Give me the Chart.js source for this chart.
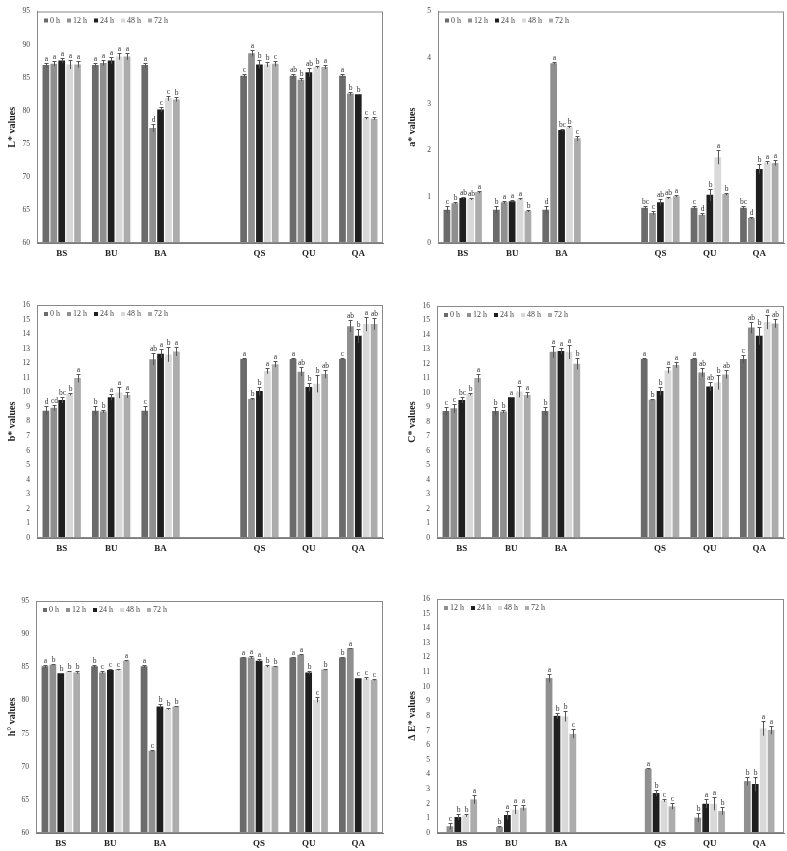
<!DOCTYPE html>
<html>
<head>
<title>Colour parameters</title>
<script src="https://cdn.jsdelivr.net/npm/chart.js"></script>
<style>
  body { margin: 0; background: #fff; }
  canvas { position: absolute; }
</style>
</head>
<body>
<canvas id="cL" width="390" height="280" style="left:0;top:0"></canvas>
<canvas id="cA" width="392" height="280" style="left:395px;top:0"></canvas>
<canvas id="cB" width="390" height="280" style="left:0;top:285px"></canvas>
<canvas id="cC" width="392" height="280" style="left:395px;top:285px"></canvas>
<canvas id="cH" width="390" height="281" style="left:0;top:570px"></canvas>
<canvas id="cE" width="392" height="281" style="left:395px;top:570px"></canvas>
<script>
const groups = ["BS", "BU", "BA", "QS", "QU", "QA"];
const hours = ["0 h", "12 h", "24 h", "48 h", "72 h"];
const deltaHours = ["12 h", "24 h", "48 h", "72 h"];

// rows = groups, columns = hours
const lMean = [
  [86.9, 87.1, 87.6, 87.0, 87.0],
  [86.9, 87.2, 87.6, 88.2, 88.2],
  [86.9, 77.4, 80.2, 81.9, 81.7],
  [85.3, 88.7, 87.0, 87.0, 87.1],
  [85.3, 84.7, 85.8, 86.6, 86.6],
  [85.3, 82.6, 82.5, 78.9, 78.8]
];
const lErr = [
  [0.3, 0.4, 0.4, 0.7, 0.5],
  [0.3, 0.4, 0.5, 0.5, 0.5],
  [0.3, 0.6, 0.4, 0.4, 0.3],
  [0.3, 0.5, 0.6, 0.4, 0.4],
  [0.3, 0.2, 0.7, 0.2, 0.3],
  [0.3, 0.3, 0.1, 0.2, 0.2]
];
const lLetters = [
  ["a", "a", "a", "a", "a"],
  ["a", "a", "a", "a", "a"],
  ["a", "d", "c", "c", "b"],
  ["c", "a", "b", "b", "c"],
  ["ab", "b", "ab", "b", "a"],
  ["a", "b", "b", "c", "c"]
];

const aMean = [
  [0.72, 0.86, 0.97, 0.95, 1.10],
  [0.72, 0.88, 0.90, 0.95, 0.69],
  [0.72, 3.88, 2.44, 2.50, 2.26],
  [0.76, 0.65, 0.88, 0.97, 1.01],
  [0.76, 0.61, 1.04, 1.85, 1.06],
  [0.76, 0.54, 1.60, 1.74, 1.73]
];
const aErr = [
  [0.08, 0.02, 0.02, 0.02, 0.03],
  [0.08, 0.03, 0.02, 0.02, 0.02],
  [0.08, 0.02, 0.03, 0.02, 0.06],
  [0.04, 0.04, 0.07, 0.02, 0.02],
  [0.04, 0.03, 0.13, 0.15, 0.03],
  [0.04, 0.02, 0.10, 0.04, 0.06]
];
const aLetters = [
  ["c", "b", "ab", "ab", "a"],
  ["b", "a", "a", "a", "b"],
  ["d", "a", "bc", "b", "c"],
  ["bc", "c", "ab", "ab", "a"],
  ["c", "d", "b", "a", "b"],
  ["bc", "d", "b", "a", "a"]
];

const bMean = [
  [8.74, 8.94, 9.47, 9.89, 10.99],
  [8.74, 8.69, 9.66, 10.0, 9.82],
  [8.74, 12.27, 12.66, 12.6, 12.8],
  [12.29, 9.54, 10.09, 11.47, 11.93],
  [12.29, 11.42, 10.37, 10.6, 11.26],
  [12.29, 14.54, 13.88, 14.7, 14.7]
];
const bErr = [
  [0.3, 0.2, 0.2, 0.1, 0.3],
  [0.3, 0.1, 0.2, 0.4, 0.2],
  [0.3, 0.4, 0.3, 0.5, 0.3],
  [0.05, 0.05, 0.3, 0.2, 0.2],
  [0.05, 0.3, 0.3, 0.6, 0.3],
  [0.05, 0.4, 0.5, 0.5, 0.4]
];
const bLetters = [
  ["d", "cd", "bc", "b", "a"],
  ["b", "b", "a", "a", "a"],
  ["c", "ab", "a", "b", "a"],
  ["a", "b", "b", "a", "a"],
  ["a", "ab", "b", "b", "ab"],
  ["c", "ab", "b", "a", "ab"]
];

const cMean = [
  [8.76, 8.94, 9.52, 9.93, 11.03],
  [8.76, 8.72, 9.70, 10.1, 9.86],
  [8.76, 12.84, 12.89, 12.84, 12.02],
  [12.34, 9.54, 10.14, 11.56, 11.93],
  [12.34, 11.42, 10.44, 10.73, 11.28],
  [12.34, 14.52, 13.94, 14.9, 14.8]
];
const cErr = [
  [0.3, 0.3, 0.2, 0.1, 0.3],
  [0.3, 0.1, 0.05, 0.4, 0.2],
  [0.3, 0.4, 0.2, 0.5, 0.4],
  [0.05, 0.05, 0.3, 0.2, 0.2],
  [0.05, 0.3, 0.3, 0.5, 0.3],
  [0.3, 0.4, 0.6, 0.5, 0.3]
];
const cLetters = [
  ["c", "c", "bc", "b", "a"],
  ["b", "b", "a", "a", "a"],
  ["b", "a", "a", "a", "b"],
  ["a", "b", "b", "a", "a"],
  ["a", "ab", "ab", "b", "ab"],
  ["c", "ab", "b", "a", "ab"]
];

const hMean = [
  [85.16, 85.4, 84.1, 84.4, 84.2],
  [85.16, 84.2, 84.6, 84.65, 86.0],
  [85.16, 72.4, 79.1, 78.7, 79.1],
  [86.46, 86.46, 86.0, 85.2, 85.1],
  [86.46, 86.9, 84.2, 80.1, 84.65],
  [86.46, 87.87, 83.35, 83.3, 83.1]
];
const hErr = [
  [0.2, 0.1, 0.05, 0.1, 0.2],
  [0.2, 0.2, 0.1, 0.1, 0.1],
  [0.2, 0.1, 0.3, 0.1, 0.1],
  [0.1, 0.2, 0.2, 0.2, 0.1],
  [0.1, 0.1, 0.3, 0.4, 0.1],
  [0.1, 0.1, 0.1, 0.2, 0.1]
];
const hLetters = [
  ["a", "b", "b", "b", "b"],
  ["b", "c", "c", "c", "a"],
  ["a", "c", "b", "b", "b"],
  ["a", "a", "a", "b", "b"],
  ["a", "a", "b", "c", "b"],
  ["b", "a", "c", "c", "c"]
];

// rows = groups, columns = deltaHours
const eMean = [
  [0.46, 1.09, 1.21, 2.30],
  [0.41, 1.23, 1.59, 1.73],
  [10.6, 8.01, 7.97, 6.78],
  [4.39, 2.73, 2.23, 1.82],
  [1.05, 2.0, 2.0, 1.5],
  [3.55, 3.35, 7.15, 7.05]
];
const eErr = [
  [0.2, 0.2, 0.1, 0.3],
  [0.05, 0.3, 0.3, 0.2],
  [0.3, 0.2, 0.35, 0.3],
  [0.05, 0.2, 0.1, 0.2],
  [0.3, 0.3, 0.45, 0.25],
  [0.3, 0.5, 0.5, 0.3]
];
const eLetters = [
  ["c", "b", "b", "a"],
  ["b", "a", "a", "a"],
  ["a", "b", "b", "c"],
  ["a", "b", "c", "c"],
  ["b", "a", "a", "b"],
  ["b", "b", "a", "a"]
];

const hourColors = {
  "0 h": "#6b6b6b",
  "12 h": "#8f8f8f",
  "24 h": "#1f1f1f",
  "48 h": "#d9d9d9",
  "72 h": "#acacac"
};

const serif = "'Liberation Serif', 'Times New Roman', serif";

// empty slot between the B and Q groups
function withGap(arr) {
  return [...arr.slice(0, 3), null, ...arr.slice(3)];
}
const labels = withGap(groups).map((g) => g || "");

function makeDatasets(series, means, errs, lets, catPct) {
  return series.map((name, s) => ({
    label: name,
    data: withGap(means.map((r) => r[s])),
    errors: withGap(errs.map((r) => r[s])),
    letters: withGap(lets.map((r) => r[s])),
    backgroundColor: hourColors[name],
    borderWidth: 0,
    categoryPercentage: catPct,
    barPercentage: 0.85,
  }));
}

// error bars, significance letters, frame and inner legend
const barMarks = {
  id: "barMarks",
  afterDatasetsDraw(chart) {
    const ctx = chart.ctx;
    const y = chart.scales.y;
    const a = chart.chartArea;
    ctx.save();
    chart.data.datasets.forEach((ds, i) => {
      chart.getDatasetMeta(i).data.forEach((bar, j) => {
        const v = ds.data[j];
        if (v == null) return;
        const e = ds.errors[j];
        const x = Math.round(bar.x) + 0.5;
        const yt = Math.round(y.getPixelForValue(v + e)) + 0.5;
        const yb = y.getPixelForValue(v - e);
        ctx.strokeStyle = "#555";
        ctx.lineWidth = 1;
        ctx.beginPath();
        ctx.moveTo(x, yb);
        ctx.lineTo(x, yt);
        ctx.moveTo(x - 2, yt);
        ctx.lineTo(x + 2, yt);
        ctx.stroke();
        ctx.fillStyle = "#333";
        ctx.font = "7.5px " + serif;
        ctx.textAlign = "center";
        ctx.textBaseline = "bottom";
        ctx.fillText(ds.letters[j], x, yt - 1);
      });
    });

    ctx.strokeStyle = "#8a8a8a";
    ctx.lineWidth = 1;
    ctx.strokeRect(a.left + 0.5, a.top + 0.5, a.right - a.left - 1, a.bottom - a.top - 1);

    ctx.font = "8px " + serif;
    ctx.textAlign = "left";
    ctx.textBaseline = "middle";
    let lx = a.left + 7;
    const ly = a.top + 9;
    chart.data.datasets.forEach((ds) => {
      ctx.fillStyle = ds.backgroundColor;
      ctx.fillRect(lx, ly - 2, 4, 4);
      lx += 6;
      ctx.fillStyle = "#444";
      ctx.fillText(ds.label, lx, ly);
      lx += ctx.measureText(ds.label).width + 7;
    });
    ctx.restore();
  },
};

function makeChart(id, opts) {
  new Chart(document.getElementById(id), {
    type: "bar",
    data: {
      labels: labels,
      datasets: makeDatasets(opts.series, opts.mean, opts.err, opts.letters, opts.catPct),
    },
    plugins: [barMarks],
    options: {
      responsive: false,
      animation: false,
      layout: { padding: opts.pad },
      plugins: { legend: { display: false }, tooltip: { enabled: false } },
      scales: {
        x: {
          grid: { display: false, drawTicks: false },
          border: { color: "#7a7a7a" },
          ticks: { color: "#222", padding: 5, font: { family: serif, size: 9, weight: "bold" } },
          afterFit: (scale) => { scale.height = 18; },
        },
        y: {
          min: opts.min,
          max: opts.max,
          grid: { display: false, drawTicks: false },
          border: { color: "#7a7a7a" },
          ticks: { stepSize: opts.step, color: "#444", padding: 7, font: { family: serif, size: 7.5 } },
          title: {
            display: true,
            text: opts.title,
            color: "#222",
            padding: { top: 6, bottom: 0 },
            font: { family: serif, size: 10, weight: "bold" },
          },
          afterFit: (scale) => { scale.width = opts.yWidth; },
        },
      },
    },
  });
}

makeChart("cL", { series: hours, mean: lMean, err: lErr, letters: lLetters, catPct: 0.8,
  min: 60, max: 95, step: 5, title: "L* values", yWidth: 37,
  pad: { left: 0, right: 7, top: 10, bottom: 19 } });
makeChart("cA", { series: hours, mean: aMean, err: aErr, letters: aLetters, catPct: 0.8,
  min: 0, max: 5, step: 1, title: "a* values", yWidth: 38,
  pad: { left: 5, right: 3, top: 10, bottom: 19 } });
makeChart("cB", { series: hours, mean: bMean, err: bErr, letters: bLetters, catPct: 0.8,
  min: 0, max: 16, step: 1, title: "b* values", yWidth: 37,
  pad: { left: 0, right: 7, top: 20, bottom: 9 } });
makeChart("cC", { series: hours, mean: cMean, err: cErr, letters: cLetters, catPct: 0.8,
  min: 0, max: 16, step: 1, title: "C* values", yWidth: 37,
  pad: { left: 5, right: 3, top: 21, bottom: 9 } });
makeChart("cH", { series: hours, mean: hMean, err: hErr, letters: hLetters, catPct: 0.8,
  min: 60, max: 95, step: 5, title: "h° values", yWidth: 36,
  pad: { left: 0, right: 7, top: 31, bottom: 0 } });
makeChart("cE", { series: deltaHours, mean: eMean, err: eErr, letters: eLetters, catPct: 0.64,
  min: 0, max: 16, step: 1, title: "Δ E* values", yWidth: 37,
  pad: { left: 5, right: 3, top: 29, bottom: 0 } });
</script>
</body>
</html>
